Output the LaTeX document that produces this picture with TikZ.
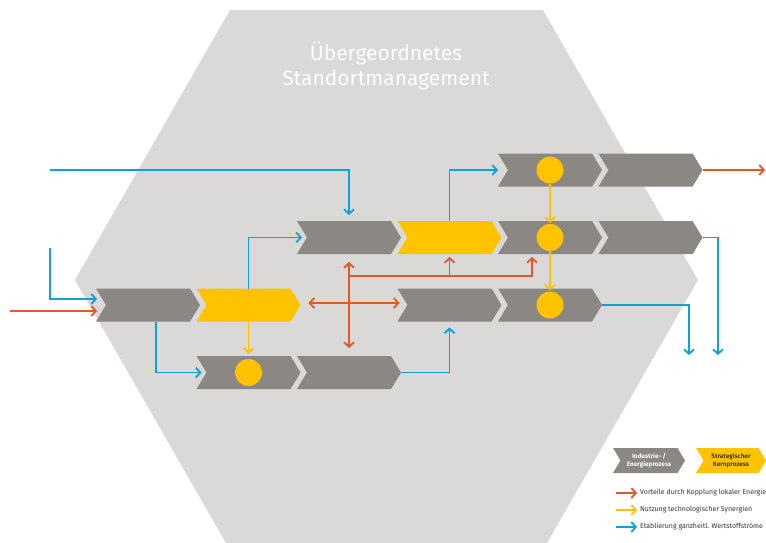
\documentclass[tikz,border=0pt]{standalone}
\usepackage{fontspec}
\setmainfont{Fira Sans}
\usetikzlibrary{shapes.symbols,arrows.meta,calc}

\definecolor{hexgray}{HTML}{DAD9D7}
\definecolor{procgray}{HTML}{8B8782}
\definecolor{coreyellow}{HTML}{FFC300}
\definecolor{flowblue}{HTML}{13A0D6}
\definecolor{flowred}{HTML}{E5562A}
\definecolor{keytext}{HTML}{4A3A12}

\tikzset{
  proc/.style={signal, signal to=east, signal from=west, signal pointer angle=118,
    minimum width=104pt, minimum height=33pt, inner sep=0pt, outer sep=0pt, fill=procgray},
  core/.style={proc, fill=coreyellow},
  syn/.style={circle, fill=coreyellow, minimum size=27pt, inner sep=0pt},
  barb/.tip={Straight Barb[length=4.5pt,width=10pt,line width=1.8pt]},
  tip/.style={-barb},
  twotip/.style={barb-barb},
  energy/.style={flowred, line width=1.9pt, tip},
  synergy/.style={coreyellow, line width=1.9pt, tip},
  waste/.style={flowblue, line width=1.9pt, tip},
  keylabel/.style={anchor=west, inner sep=0pt, text=black!80, font=\fontsize{7}{8}\selectfont},
  keybox/.style={minimum height=25pt, align=center, font=\fontsize{6.4}{7.4}\selectfont\bfseries},
}

\begin{document}
\begin{tikzpicture}[x=1pt,y=-1pt]
	\useasboundingbox (0,0) rectangle (766,542);
	%%  Standort  %%%%%%%%
	\fill[hexgray] (230,10) -- (543,10) -- (698,280) -- (543,550) -- (230,550) -- (75,280) -- cycle;
	\node[text=white, align=center, font=\fontsize{21}{25}\selectfont] (title) at (386,66)
		{Übergeordnetes\\Standortmanagement};

	%%  Prozesse  %%%%%%%%
	\node[proc] (r1c4) at (550,170) {};
	\node[proc] (r1c5) at (650.5,170) {};
	\node[proc] (r2c2) at (349,237.5) {};
	\node[core] (r2c3) at (449.5,237.5) {};
	\node[proc] (r2c4) at (550,237.5) {};
	\node[proc] (r2c5) at (650.5,237.5) {};
	\node[proc] (r3c0) at (148,305) {};
	\node[core] (r3c1) at (248.5,305) {};
	\node[proc] (r3c3) at (449.5,305) {};
	\node[proc] (r3c4) at (550,305) {};
	\node[proc] (r4c1) at (248.5,372.5) {};
	\node[proc] (r4c2) at (349,372.5) {};
	\node[syn] (s1) at (r1c4) {};
	\node[syn] (s2) at (r2c4) {};
	\node[syn] (s3) at (r3c4) {};
	\node[syn] (s4) at (r4c1) {};

	%%  Wertstoffstroeme  %%%%%%%%
	\coordinate (inA) at (50,170);
	\coordinate (inB) at (50,248);
	\coordinate (outA) at (718,355);
	\coordinate (outB) at (689,355);
	\draw[waste] (inA) -| ($(r2c2.north)+(0,-6)$);
	\draw[waste] (inB) |- ($(r3c0.center)+(-51,-6)$);
	\draw[waste] (r3c1.north) |- ($(r2c2.center)+(-47,0)$);
	\draw[waste] ($(r3c0.south)+(8,0)$) |- ($(r4c1.center)+(-47,0)$);
	\draw[waste] (r2c3.north) |- ($(r1c4.center)+(-52,0)$);
	\draw[waste] (r4c2.east) -| ($(r3c3.south)+(0,6)$);
	\draw[waste] (r2c5.east) -| (outA);
	\draw[waste] (r3c4.east) -| (outB);

	%%  Energie  %%%%%%%%
	\coordinate (inC) at (10,311);
	\coordinate (outC) at (765,170);
	\coordinate (branch) at ($(r2c2.south)+(0,22)$);
	\draw[energy] (inC) -- ($(r3c0.center)+(-51,6)$);
	\draw[energy] (r1c5.east) -- (outC);
	\draw[energy, twotip] ($(r2c2.south)+(0,8)$) -- ($(r4c2.north)+(0,-8)$);
	\draw[energy, twotip] ($(r3c1.east)+(8,-2)$) -- ($(r3c3.center)+(-50,-2)$);
	\draw[energy] (branch) -| ($(r2c4.south)+(-18,3)$);
	\draw[energy] (r2c3.south |- branch) -- ($(r2c3.south)+(0,3)$);

	%%  Synergien  %%%%%%%%
	\draw[synergy] (r3c1.south) -- ($(s4.north)+(0,-5)$);
	\draw[synergy, shorten >=1pt] (s1.south) -- (s2.north);
	\draw[synergy, shorten >=1pt] (s2.south) -- (s3.north);

	%%  Legende  %%%%%%%%
	\node[proc, keybox, minimum width=72pt, text=white] (keyproc) at (649,460.5) {Industrie- /\\Energieprozess};
	\node[core, keybox, minimum width=70pt, text=keytext] (keycore) at (731,460.5) {Strategischer\\Kernprozess};
	\coordinate (k1a) at (616,493);
	\coordinate (k2a) at (616,510);
	\coordinate (k3a) at (616,527);
	\node[keylabel] (k1) at (640,493) {Vorteile durch Kopplung lokaler Energie};
	\node[keylabel] (k2) at (640,510) {Nutzung technologischer Synergien};
	\node[keylabel] (k3) at (640,527) {Etablierung ganzheitl. Wertstoffströme};
	\draw[energy, shorten >=3pt] (k1a) -- (k1.west);
	\draw[synergy, shorten >=3pt] (k2a) -- (k2.west);
	\draw[waste, shorten >=3pt] (k3a) -- (k3.west);
	%%%%%%%%%%%%%%%
\end{tikzpicture}
\end{document}
